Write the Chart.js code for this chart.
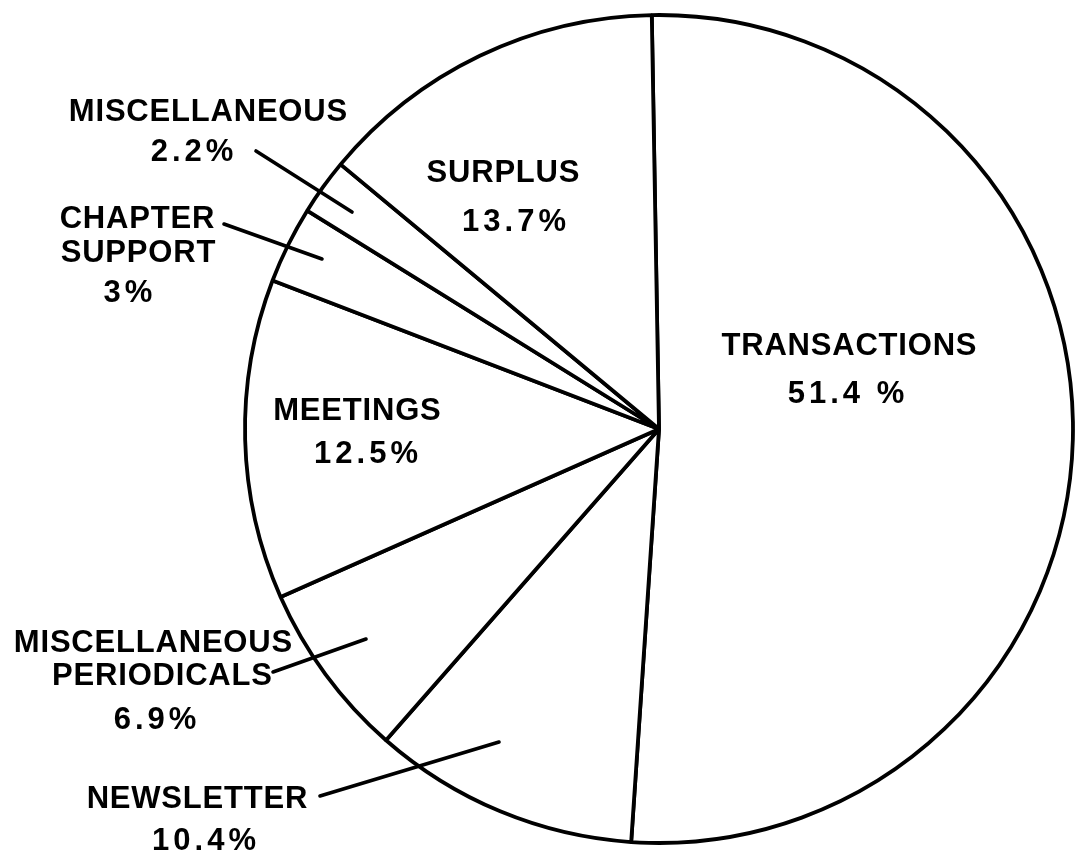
<!DOCTYPE html>
<html>
<head>
<meta charset="utf-8">
<script src="https://cdn.jsdelivr.net/npm/chart.js@4"></script>
<style>
  html, body { margin: 0; padding: 0; background: #ffffff; }
  #wrap { width: 1087px; height: 853px; position: relative; }
</style>
</head>
<body>
<div id="wrap"><canvas id="c" width="1087" height="853"></canvas></div>
<script>
// ---- data ----
const categories = ["TRANSACTIONS", "NEWSLETTER", "MISCELLANEOUS PERIODICALS", "MEETINGS", "CHAPTER SUPPORT", "MISCELLANEOUS", "SURPLUS"];
const shares = [51.4, 10.4, 6.9, 12.5, 3, 2.2, 13.7];
const shareLabels = ["51.4 %", "10.4%", "6.9%", "12.5%", "3%", "2.2%", "13.7%"];
const nameLines = [["TRANSACTIONS"], ["NEWSLETTER"], ["MISCELLANEOUS", "PERIODICALS"], ["MEETINGS"], ["CHAPTER", "SUPPORT"], ["MISCELLANEOUS"], ["SURPLUS"]];

// ---- label layout (offsets from pie centre, in px at radius 414) ----
const REF_R = 414;
const labelLayout = [
  { lines: [[190, -74], [187, -26]] },
  { lines: [[-462, 379], [-455, 421]], leader: [[-339, 367], [-160, 313]] },
  { lines: [[-506, 223], [-497, 256], [-504, 300]], leader: [[-386, 243], [-293, 210]] },
  { lines: [[-302, -9], [-293, 34]] },
  { lines: [[-522, -201], [-521, -167], [-531, -127]], leader: [[-435, -205], [-337, -170]] },
  { lines: [[-451, -308], [-467, -268]], leader: [[-403, -278], [-307, -217]] },
  { lines: [[-156, -247], [-145, -198]] }
];

const FONT = 'bold 31px "Liberation Sans", Arial, sans-serif';

const labelPlugin = {
  id: 'pieLabels',
  afterDraw(chart) {
    const ctx = chart.ctx;
    const meta = chart.getDatasetMeta(0);
    const arc0 = meta.data[0];
    const cx = arc0.x, cy = arc0.y;
    const k = arc0.outerRadius / REF_R;
    ctx.save();
    ctx.fillStyle = '#000';
    ctx.strokeStyle = '#000';
    ctx.lineWidth = 3.6;
    ctx.lineCap = 'round';
    ctx.font = FONT;
    ctx.textBaseline = 'alphabetic';
    ctx.textAlign = 'left';
    labelLayout.forEach((lay, i) => {
      const texts = nameLines[i].concat([shareLabels[i]]);
      texts.forEach((t, j) => {
        const isNum = j === texts.length - 1;
        const sp = isNum ? 4 : 0.8;
        ctx.letterSpacing = sp + 'px';
        const w = ctx.measureText(t).width - sp;
        const [dx, dy] = lay.lines[j];
        ctx.fillText(t, cx + dx * k - w / 2, cy + dy * k);
      });
      if (lay.leader) {
        const [a, b] = lay.leader;
        ctx.beginPath();
        ctx.moveTo(cx + a[0] * k, cy + a[1] * k);
        ctx.lineTo(cx + b[0] * k, cy + b[1] * k);
        ctx.stroke();
      }
    });
    ctx.letterSpacing = '0px';
    ctx.restore();
  }
};

new Chart(document.getElementById('c'), {
  type: 'pie',
  data: {
    labels: categories,
    datasets: [{
      data: shares,
      backgroundColor: '#ffffff',
      borderColor: '#000000',
      borderWidth: 3.8,
      borderAlign: 'center',
      hoverOffset: 0
    }]
  },
  options: {
    responsive: false,
    animation: false,
    devicePixelRatio: 1,
    rotation: -1,
    radius: 414,
    layout: { padding: { left: 231, right: 0, top: 5, bottom: 0 } },
    plugins: {
      legend: { display: false },
      tooltip: { enabled: false }
    }
  },
  plugins: [labelPlugin]
});
</script>
</body>
</html>
